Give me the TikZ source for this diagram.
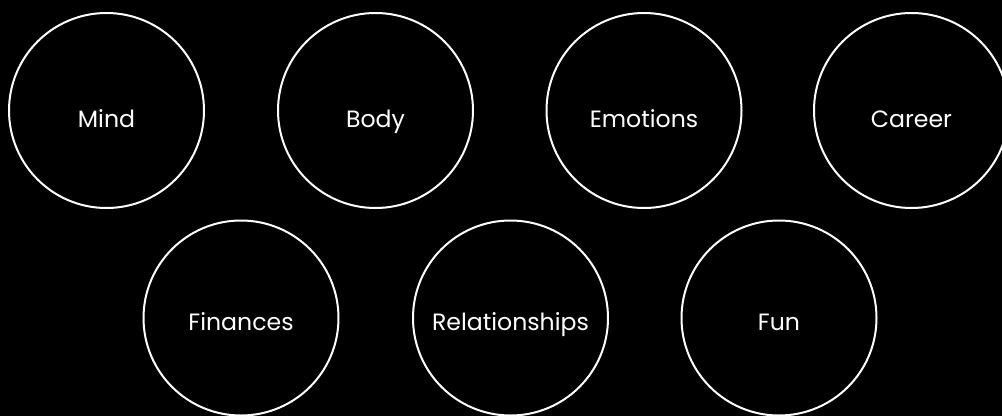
\documentclass[tikz,border=0pt]{standalone}
\usepackage{fontspec}
\setmainfont{Poppins}
\tikzset{
  area/.style={circle, draw=white, line width=2pt, minimum size=195pt, inner sep=0pt},
  lbl/.style={text=white, anchor=base, font=\fontsize{23.6}{26}\selectfont, inner sep=0pt}
}
\begin{document}
\begin{tikzpicture}[x=1pt, y=-1pt]
\fill[black] (0,0) rectangle (1002,416);
\useasboundingbox (0,0) rectangle (1002,416);
\clip (0,0) rectangle (1002,416);
\node[area] (mind) at (106.5,110.5) {};
\node[area] (body) at (375.5,110.5) {};
\node[area] (emotions) at (644,110.5) {};
\node[area] (career) at (911.5,110.5) {};
\node[area] (finances) at (241,318) {};
\node[area] (relationships) at (510.5,318) {};
\node[area] (fun) at (779,318) {};
\node[lbl] (tmind) at (106.5,127) {Mind};
\node[lbl] (tbody) at (375.5,127) {Body};
\node[lbl] (temotions) at (644,127) {Emotions};
\node[lbl] (tcareer) at (911.5,127) {Career};
\node[lbl] (tfinances) at (241,330) {Finances};
\node[lbl] (trelationships) at (510.5,330) {Relationships};
\node[lbl] (tfun) at (779,330) {Fun};
\end{tikzpicture}
\end{document}
